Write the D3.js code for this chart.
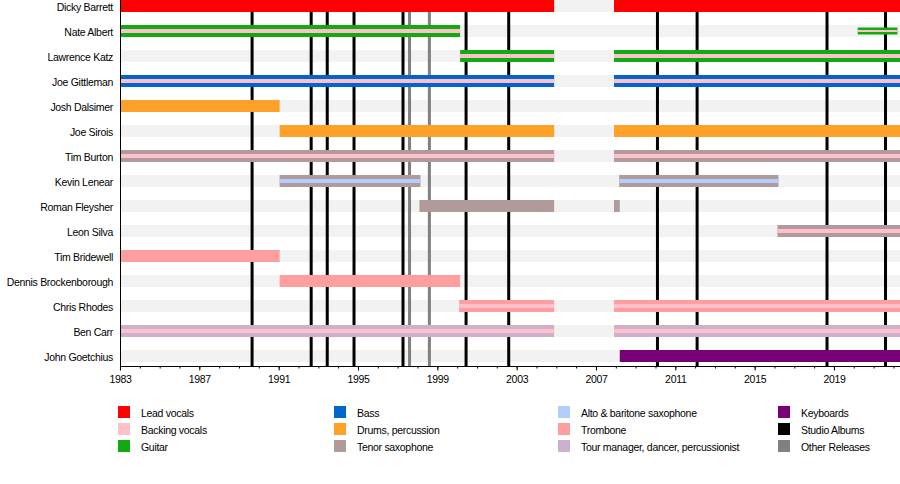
<!DOCTYPE html>
<html><head><meta charset="utf-8">
<script src="https://cdn.jsdelivr.net/npm/d3@7"></script>
<style>body{margin:0;background:#fff}text{font-family:"Liberation Sans",Arial,sans-serif;font-size:10.5px;letter-spacing:-0.3px;fill:#000}</style>
</head><body><svg width="900" height="484"></svg>
<script>
// members top to bottom
var members = ["Dicky Barrett","Nate Albert","Lawrence Katz","Joe Gittleman","Josh Dalsimer","Joe Sirois","Tim Burton","Kevin Lenear","Roman Fleysher","Leon Silva","Tim Bridewell","Dennis Brockenborough","Chris Rhodes","Ben Carr","John Goetchius"];
var roles = ["Lead vocals","Backing vocals","Guitar","Bass","Drums, percussion","Tenor saxophone","Alto & baritone saxophone","Trombone","Tour manager, dancer, percussionist","Keyboards","Studio Albums","Other Releases"];
var roleColors = ["#ff0000","#ffc0cb","#11aa11","#0066cc","#ffa128","#b09a9a","#b3cdff","#ff9e9e","#cdb0cd","#770077","#000000","#808080"];
// spans: member, start, end, role, stripe role (or null), thin
var spans = [
 ["Dicky Barrett",1983,2004.89,"Lead vocals",null],
 ["Dicky Barrett",2007.91,2022.4,"Lead vocals",null],
 ["Nate Albert",1983,2000.15,"Guitar","Backing vocals"],
 ["Nate Albert",2020.2,2022.2,"Guitar","Backing vocals",true],
 ["Lawrence Katz",2000.15,2004.89,"Guitar","Backing vocals"],
 ["Lawrence Katz",2007.91,2022.4,"Guitar","Backing vocals"],
 ["Joe Gittleman",1983,2004.89,"Bass","Backing vocals"],
 ["Joe Gittleman",2007.91,2022.4,"Bass","Backing vocals"],
 ["Josh Dalsimer",1983,1991.05,"Drums, percussion",null],
 ["Joe Sirois",1991.05,2004.89,"Drums, percussion",null],
 ["Joe Sirois",2007.91,2022.4,"Drums, percussion",null],
 ["Tim Burton",1983,2004.89,"Tenor saxophone","Backing vocals"],
 ["Tim Burton",2007.91,2022.4,"Tenor saxophone","Backing vocals"],
 ["Kevin Lenear",1991.05,1998.15,"Tenor saxophone","Alto & baritone saxophone"],
 ["Kevin Lenear",2008.17,2016.2,"Tenor saxophone","Alto & baritone saxophone"],
 ["Roman Fleysher",1998.1,2004.89,"Tenor saxophone",null],
 ["Roman Fleysher",2007.91,2008.2,"Tenor saxophone",null],
 ["Leon Silva",2016.15,2022.4,"Tenor saxophone","Backing vocals"],
 ["Tim Bridewell",1983,1991.05,"Trombone",null],
 ["Dennis Brockenborough",1991.05,2000.15,"Trombone",null],
 ["Chris Rhodes",2000.1,2004.89,"Trombone","Backing vocals"],
 ["Chris Rhodes",2007.91,2022.4,"Trombone","Backing vocals"],
 ["Ben Carr",1983,2004.89,"Tour manager, dancer, percussionist","Backing vocals"],
 ["Ben Carr",2007.91,2022.4,"Tour manager, dancer, percussionist","Backing vocals"],
 ["John Goetchius",2008.2,2022.4,"Keyboards",null]
];
var studioAlbums = [1989.66,1992.64,1993.45,1994.8,1997.27,2000.45,2002.6,2010.1,2012.1,2018.65,2021.6];
var otherReleases = [1997.6,1998.6];
var tickYears = [1983,1987,1991,1995,1999,2003,2007,2011,2015,2019];

var svg = d3.select("svg");
var x = d3.scaleLinear().domain([1983,2022.33]).range([120,900]);
var y = d3.scaleBand().domain(members).range([0,375]);
var color = d3.scaleOrdinal().domain(roles).range(roleColors);
var bh = 12, rowY = function(m){ return y(m); };

svg.selectAll(".bg").data(members).enter().append("rect")
  .attr("x",120).attr("width",780).attr("y",rowY).attr("height",bh).attr("fill","#f2f2f2");

svg.selectAll(".sa").data(studioAlbums).enter().append("line")
  .attr("x1",x).attr("x2",x).attr("y1",12).attr("y2",366).attr("stroke","#000").attr("stroke-width",3);
svg.selectAll(".or").data(otherReleases).enter().append("line")
  .attr("x1",x).attr("x2",x).attr("y1",12).attr("y2",366).attr("stroke","#808080").attr("stroke-width",3);

var g = svg.selectAll(".span").data(spans).enter().append("g");
g.append("rect")
  .attr("x",function(d){return x(d[1]);})
  .attr("width",function(d){return Math.min(x(d[2]),900)-x(d[1]);})
  .attr("y",function(d){return d[5] ? rowY(d[0])+2.5 : rowY(d[0]);})
  .attr("height",function(d){return d[5] ? 7 : bh;})
  .attr("fill",function(d){return color(d[3]);});
g.filter(function(d){return d[4];}).append("rect")
  .attr("x",function(d){return x(d[1]);})
  .attr("width",function(d){return Math.min(x(d[2]),900)-x(d[1]);})
  .attr("y",function(d){return d[5] ? rowY(d[0])+5 : rowY(d[0])+4;})
  .attr("height",function(d){return d[5] ? 2 : 4;})
  .attr("fill",function(d){return color(d[4]);});

svg.selectAll(".lbl").data(members).enter().append("text")
  .attr("x",113).attr("y",function(d){return rowY(d)+11;}).attr("text-anchor","end").text(function(d){return d;});

svg.append("line").attr("x1",120.5).attr("x2",120.5).attr("y1",0).attr("y2",367).attr("stroke","#000");
var axis = d3.axisBottom(x).tickValues(tickYears).tickFormat(d3.format("d")).tickSize(4);
var ax = svg.append("g").attr("transform","translate(0,366.5)").call(axis);
ax.select(".domain").attr("d","M120,0H900");
ax.selectAll("text").style("font-size","10.5px").attr("dy","0.9em");
svg.append("g").attr("transform","translate(0,366.5)")
  .call(d3.axisBottom(x).tickValues(d3.range(1984,2023)).tickFormat("").tickSize(2))
  .select(".domain").remove();

var legCols = [118,334,558,778];
var leg = svg.selectAll(".leg").data(roles).enter().append("g")
  .attr("transform",function(d,i){return "translate("+legCols[Math.floor(i/3)]+","+(406+(i%3)*17)+")";});
leg.append("rect").attr("width",12).attr("height",12).attr("fill",color);
leg.append("text").attr("x",23).attr("y",10.5).text(function(d){return d;});
</script></body></html>
